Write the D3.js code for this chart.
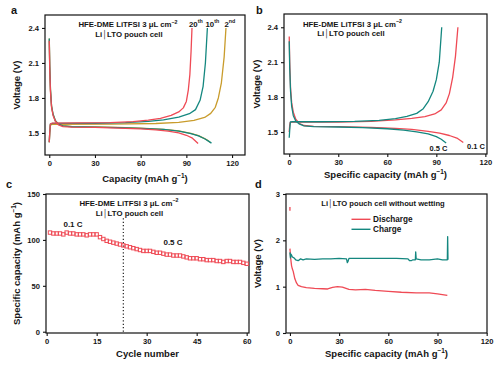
<!DOCTYPE html>
<html>
<head>
<meta charset="utf-8">
<script src="https://cdn.jsdelivr.net/npm/d3@7"></script>
<style>
  body { margin: 0; background: #fff; }
  text { font-family: "Liberation Sans", Arial, sans-serif; font-weight: bold; fill: #151515; }
</style>
</head>
<body>
<div id="graph"></div>
<script>
"use strict";

let red = '#ef4a55';
let teal = '#14877f';
let gold = '#c99c2c';

// panel a: cycles 2, 10, 20 at 0.1 C  [capacity, voltage]
let dis2nd = [[0, 2.31], [0.3, 2.08], [0.8, 1.87], [1.5, 1.73], [2.5, 1.66], [4, 1.605], [6, 1.577], [9, 1.562], [15, 1.555], [30, 1.551], [45, 1.547], [60, 1.541], [75, 1.531], [85, 1.517], [93, 1.497], [98, 1.477], [102, 1.452], [104.5, 1.432], [106, 1.415]];
let chg2nd = [[0, 1.42], [0.3, 1.5], [0.7, 1.568], [2, 1.573], [40, 1.575], [70, 1.581], [85, 1.591], [95, 1.608], [102, 1.633], [106, 1.668], [109, 1.72], [111, 1.8], [113, 1.93], [114.8, 2.15], [116, 2.4]];
let dis10th = [[0, 2.31], [0.3, 2.08], [0.8, 1.87], [1.5, 1.73], [2.5, 1.66], [4, 1.605], [6, 1.575], [9, 1.56], [15, 1.553], [30, 1.55], [45, 1.546], [60, 1.54], [75, 1.53], [85, 1.515], [93, 1.495], [98, 1.475], [102, 1.45], [104.5, 1.43], [106.5, 1.413]];
let chg10th = [[0, 1.42], [0.3, 1.5], [0.7, 1.575], [2, 1.582], [30, 1.583], [50, 1.588], [65, 1.6], [75, 1.612], [85, 1.635], [92, 1.665], [96, 1.7], [99, 1.78], [101, 1.9], [102.5, 2.1], [103.8, 2.4]];
let dis20th = [[0, 2.29], [0.3, 2.05], [0.8, 1.85], [1.5, 1.72], [2.5, 1.65], [4, 1.6], [6, 1.57], [9, 1.555], [15, 1.55], [30, 1.547], [45, 1.542], [60, 1.535], [70, 1.527], [78, 1.515], [85, 1.5], [90, 1.48], [94, 1.455], [97.7, 1.41]];
let chg20th = [[0, 1.42], [0.3, 1.5], [0.7, 1.577], [2, 1.585], [20, 1.586], [40, 1.589], [55, 1.597], [65, 1.61], [73, 1.625], [80, 1.65], [85, 1.68], [88, 1.715], [90, 1.77], [91.3, 1.87], [92.3, 2.0], [93.1, 2.2], [93.7, 2.4]];

// panel b: rate 0.1 C vs 0.5 C
let dis01C = [[0, 2.32], [0.3, 2.1], [0.8, 1.88], [1.5, 1.75], [2.5, 1.67], [4, 1.61], [6, 1.575], [9, 1.556], [15, 1.549], [30, 1.546], [50, 1.54], [65, 1.532], [75, 1.522], [85, 1.505], [92, 1.49], [98, 1.47], [103, 1.445], [106.5, 1.41]];
let chg01C = [[0, 1.5], [0.3, 1.56], [0.6, 1.582], [2, 1.585], [30, 1.586], [50, 1.592], [65, 1.605], [75, 1.618], [83, 1.633], [89, 1.655], [93, 1.69], [96, 1.75], [98, 1.83], [100, 1.97], [101.7, 2.15], [103.2, 2.4]];
let dis05C = [[0, 2.28], [0.3, 2.05], [0.8, 1.85], [1.5, 1.72], [2.5, 1.64], [4, 1.595], [6, 1.57], [9, 1.553], [15, 1.547], [30, 1.543], [45, 1.538], [60, 1.528], [70, 1.516], [78, 1.502], [85, 1.483], [90, 1.46], [93, 1.438], [96, 1.405]];
let chg05C = [[0, 1.45], [0.3, 1.52], [0.7, 1.586], [2, 1.59], [20, 1.588], [40, 1.592], [55, 1.6], [65, 1.615], [72, 1.635], [78, 1.66], [82, 1.7], [85, 1.76], [88, 1.85], [90, 1.95], [91.8, 2.1], [93.3, 2.4]];

// panel c: cycling, 0.1 C for 23 cycles then 0.5 C
let cycles = d3.range(1, 61);
let cycleCap = [108, 107, 107, 107, 106, 108, 107, 107, 106, 106, 106, 105, 106, 106, 106, 103, 101, 99, 98, 97,
  96, 95, 94, 93, 92, 91, 90, 89, 88, 88, 88, 87, 86, 86, 85, 84, 84, 83, 83, 83,
  82, 81, 80, 80, 80, 79, 79, 78, 78, 78, 77, 77, 76, 77, 77, 76, 76, 76, 75, 74];
let rateSwitch = 23;

// panel d: cell without wetting
let disNoWet = [[0, 1.82], [0.5, 1.6], [1, 1.45], [1.5, 1.38], [2, 1.33], [2.5, 1.25], [3, 1.17], [4, 1.08], [5, 1.03], [7, 1.0], [10, 0.98], [15, 0.965], [20, 0.955], [23, 0.95], [26, 0.985], [29, 1.0], [32, 0.99], [36, 0.94], [40, 0.93], [46, 0.94], [52, 0.92], [60, 0.9], [68, 0.88], [77, 0.865], [85, 0.865], [90, 0.845], [96, 0.81]];
let disNoWetStart = [[0, 2.72], [0, 2.64]];
let chgNoWet = [[0, 1.74], [0.3, 1.62], [0.6, 1.7], [1, 1.68], [1.5, 1.64], [2.5, 1.62], [3.5, 1.58], [5, 1.56], [6.5, 1.6], [8, 1.58], [10, 1.6], [15, 1.59], [20, 1.6], [25, 1.6], [30, 1.61], [34.5, 1.6], [35, 1.52], [35.5, 1.55], [36, 1.61], [45, 1.61], [55, 1.61], [65, 1.61], [72, 1.6], [73, 1.56], [74, 1.56], [75, 1.58], [76.5, 1.58], [76.7, 1.75], [77, 1.6], [80, 1.58], [85, 1.58], [90, 1.6], [93, 1.58], [96, 1.58], [96.2, 2.08], [96.4, 1.58]];

let capTicks = [0, 30, 60, 90, 120];
let voltTicks = [1.5, 1.8, 2.1, 2.4];
let cycleTicks = [0, 15, 30, 45, 60];
let specCapTicks = [0, 50, 100, 150];
let voltTicksD = [0, 1, 2, 3];

let translateStr = (x, y) => 'translate(' + x + ', ' + y + ')';

let svg = d3.select('#graph')
  .append('svg')
  .attr('width', 503)
  .attr('height', 365);

// text with superscripts: parts = [[str, shift, small], ...], shift -1 up, +1 back down
let supText = (sel, parts, size) => {
  parts.forEach(p => {
    sel.append('tspan')
      .attr('font-size', p[2] ? size * 0.68 : size)
      .attr('dy', (p[1] || 0) * size * 0.42)
      .text(p[0]);
  });
  return sel;
};

let makePanel = p => {
  let g = svg.append('g');
  let x = d3.scaleLinear().domain(p.xDomain).range([p.left, p.right]);
  let y = d3.scaleLinear().domain(p.yDomain).range([p.bottom, p.top]);

  let xAxis = g.append('g')
    .attr('transform', translateStr(0, p.bottom))
    .call(d3.axisBottom(x).tickValues(p.xTicks).tickSize(3).tickPadding(3).tickFormat(p.xFormat || d3.format('d')));
  let yAxis = g.append('g')
    .attr('transform', translateStr(p.left, 0))
    .call(d3.axisLeft(y).tickValues(p.yTicks).tickSize(3).tickPadding(3).tickFormat(p.yFormat || d3.format('d')));
  [xAxis, yAxis].forEach(a => {
    a.select('.domain').remove();
    a.selectAll('line').attr('stroke', '#111').attr('stroke-width', 1.1);
    a.selectAll('text').attr('font-size', 7.6).attr('font-family', null).attr('fill', '#151515');
  });

  g.append('rect')
    .attr('x', p.left).attr('y', p.top)
    .attr('width', p.right - p.left).attr('height', p.bottom - p.top)
    .attr('fill', 'none').attr('stroke', '#111').attr('stroke-width', 1.2);

  supText(g.append('text')
    .attr('x', (p.left + p.right) / 2).attr('y', p.xTitleY)
    .attr('text-anchor', 'middle'), p.xTitle, 9.5);

  supText(g.append('text')
    .attr('transform', translateStr(p.yTitleX, (p.top + p.bottom) / 2) + ' rotate(-90)')
    .attr('text-anchor', 'middle'), p.yTitle, 9.5);

  g.append('text')
    .attr('x', p.letterX).attr('y', p.letterY)
    .attr('font-size', 11)
    .text(p.letter);

  return { g: g, x: x, y: y };
};

let drawLine = (panel, data, color) => {
  let line = d3.line()
    .x(d => panel.x(d[0]))
    .y(d => panel.y(d[1]));
  panel.g.append('path')
    .datum(data)
    .attr('d', line)
    .attr('fill', 'none')
    .attr('stroke', color)
    .attr('stroke-width', 1.3)
    .attr('stroke-linejoin', 'round');
};

let note = (panel, x, y, parts, size, anchor) => {
  return supText(panel.g.append('text')
    .attr('x', x).attr('y', y)
    .attr('text-anchor', anchor || 'middle'), parts, size);
};

let capTitle = [['Capacity (mAh g'], ['\u22121', -1, true], [')', 1]];
let specTitle = [['Specific capacity (mAh g'], ['\u22121', -1, true], [')', 1]];
let voltTitle = [['Voltage (V)']];
let electrolyte = [['HFE-DME LiTFSI 3 \u03bcL cm'], ['\u22122', -1, true]];
let cellName = [['Li\u2502LTO pouch cell']];

// ---- a ----
let pa = makePanel({
  left: 45, right: 245, top: 15, bottom: 155,
  xDomain: [-2.8, 128.5], yDomain: [1.311, 2.511],
  xTicks: capTicks, yTicks: voltTicks, yFormat: d3.format('.1f'),
  xTitle: capTitle, xTitleY: 182, yTitle: voltTitle, yTitleX: 19.5,
  letter: 'a', letterX: 11, letterY: 13.5
});
drawLine(pa, dis2nd, gold);
drawLine(pa, chg2nd, gold);
drawLine(pa, dis10th, teal);
drawLine(pa, chg10th, teal);
drawLine(pa, dis20th, red);
drawLine(pa, chg20th, red);
note(pa, 128, 27, electrolyte, 7.8);
note(pa, 129, 36.5, cellName, 7.8);
note(pa, 189, 26.7, [['20'], ['th', -1, true]], 7.8, 'start');
note(pa, 205.5, 26.7, [['10'], ['th', -1, true]], 7.8, 'start');
note(pa, 224.5, 26.7, [['2'], ['nd', -1, true]], 7.8, 'start');

// ---- b ----
let pb = makePanel({
  left: 284, right: 487, top: 14, bottom: 154,
  xDomain: [-3.2, 121], yDomain: [1.311, 2.514],
  xTicks: capTicks, yTicks: voltTicks, yFormat: d3.format('.1f'),
  xTitle: specTitle, xTitleY: 177.5, yTitle: voltTitle, yTitleX: 260,
  letter: 'b', letterX: 256, letterY: 13.5
});
drawLine(pb, dis01C, red);
drawLine(pb, chg01C, red);
drawLine(pb, dis05C, teal);
drawLine(pb, chg05C, teal);
note(pb, 352.5, 26.5, electrolyte, 7.8);
note(pb, 351, 36, cellName, 7.8);
note(pb, 438.5, 150.5, [['0.5 C']], 7.5);
note(pb, 476, 149, [['0.1 C']], 7.5);

// ---- c ----
let pc = makePanel({
  left: 46, right: 249, top: 194, bottom: 333,
  xDomain: [-0.2, 60.7], yDomain: [-1.4, 150],
  xTicks: cycleTicks, yTicks: specCapTicks,
  xTitle: [['Cycle number']], xTitleY: 356.5, yTitle: specTitle, yTitleX: 19.5,
  letter: 'c', letterX: 6, letterY: 188
});
pc.g.append('line')
  .attr('x1', pc.x(rateSwitch)).attr('x2', pc.x(rateSwitch))
  .attr('y1', pc.y(0)).attr('y2', pc.y(124))
  .attr('stroke', '#222').attr('stroke-width', 1.2)
  .attr('stroke-dasharray', '1.2,2.2');
pc.g.selectAll('rect.pt')
  .data(cycles)
  .enter()
  .append('rect')
  .attr('class', 'pt')
  .attr('x', d => pc.x(d) - 1.7)
  .attr('y', (d, i) => pc.y(cycleCap[i]) - 1.7)
  .attr('width', 3.4).attr('height', 3.4)
  .attr('fill', 'none').attr('stroke', red).attr('stroke-width', 1);
note(pc, 129, 205.5, electrolyte, 7.8);
note(pc, 129.5, 216, cellName, 7.8);
note(pc, 73, 227, [['0.1 C']], 8);
note(pc, 173, 245, [['0.5 C']], 8);

// ---- d ----
let pd = makePanel({
  left: 286, right: 487, top: 194, bottom: 333,
  xDomain: [-2.4, 120.2], yDomain: [0, 3],
  xTicks: capTicks, yTicks: voltTicksD,
  xTitle: specTitle, xTitleY: 356.5, yTitle: voltTitle, yTitleX: 261,
  letter: 'd', letterX: 255, letterY: 188
});
drawLine(pd, disNoWet, red);
drawLine(pd, disNoWetStart, red);
drawLine(pd, chgNoWet, teal);
note(pd, 383, 206, [['Li\u2502LTO pouch cell without wetting']], 7.6);
[[red, 'Discharge', 219.3], [teal, 'Charge', 229.3]].forEach(item => {
  pd.g.append('line')
    .attr('x1', 351.5).attr('x2', 370.5)
    .attr('y1', item[2]).attr('y2', item[2])
    .attr('stroke', item[0]).attr('stroke-width', 1.4);
  note(pd, 373, item[2] + 3, [[item[1]]], 8.2, 'start');
});
</script>
</body>
</html>
